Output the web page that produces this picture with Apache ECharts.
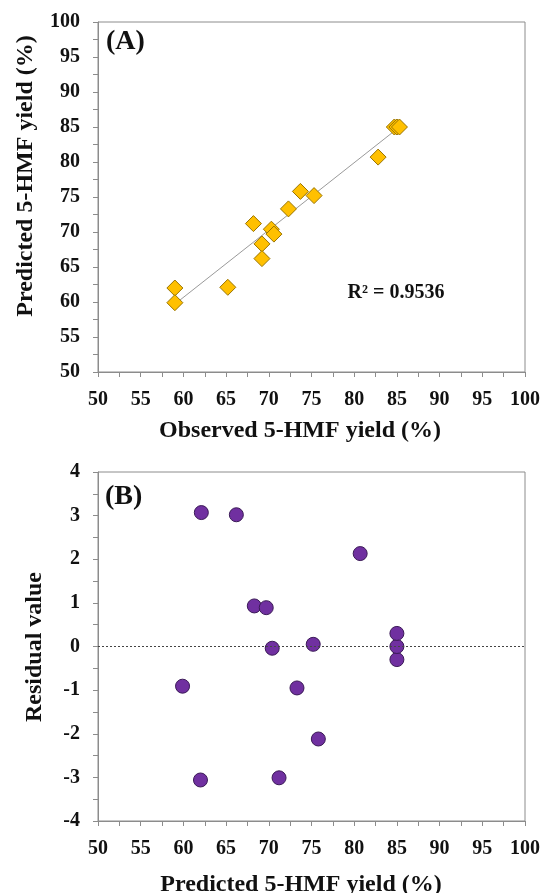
<!DOCTYPE html>
<html>
<head>
<meta charset="utf-8">
<script src="https://cdn.jsdelivr.net/npm/echarts@6/dist/echarts.min.js"></script>
<style>
html,body{margin:0;padding:0;background:#fff;}
#chart{width:544px;height:893px;}
</style>
</head>
<body>
<div id="chart"></div>
<script>
// Panel A: observed vs predicted 5-HMF yield (%)
var observed  = [59.0, 59.0, 65.2, 68.2, 69.2, 69.2, 70.3, 70.6, 72.3, 73.7, 75.3, 82.8, 84.7, 85.0, 85.3];
var predicted = [62.0, 59.9, 62.1, 71.2, 68.3, 66.2, 70.4, 69.7, 73.3, 75.8, 75.2, 80.7, 85.0, 85.0, 85.0];
// Panel B: residual value vs predicted yield
var residual  = [-3.06, -0.91, 3.07, -3.01, 0.93, 3.02, -0.04, 0.89, -0.95, -2.12, 0.05, 2.13, -0.30, 0.00, 0.30];
// Linear trend line endpoints (panel A)
var trendX = [59.0, 85.3];
var trendY = [59.7, 85.0];
var rSquaredText = 'R² = 0.9536';
var xTickLabels = [50, 55, 60, 65, 70, 75, 80, 85, 90, 95, 100];
var yTickLabelsA = [50, 55, 60, 65, 70, 75, 80, 85, 90, 95, 100];
var yTickLabelsB = [-4, -3, -2, -1, 0, 1, 2, 3, 4];

var FONT = '"Liberation Serif", "Times New Roman", serif';
var AXC = '#8c8c8c';

function pairs(xs, ys) { return xs.map(function (x, i) { return [x, ys[i]]; }); }
function labelFmt(list) {
  return function (v) {
    for (var i = 0; i < list.length; i++) if (Math.abs(list[i] - v) < 1e-9) return String(list[i]);
    return '';
  };
}
function axisCommon(min, max, interval, labels, isY) {
  return {
    type: 'value', min: min, max: max, interval: interval,
    axisLine: { show: true, onZero: false, lineStyle: { color: AXC, width: 1 } },
    axisTick: { show: true, inside: false, length: 5, lineStyle: { color: AXC, width: 1 } },
    splitLine: { show: false },
    axisLabel: {
      formatter: labelFmt(labels), margin: isY ? 18 : 18,
      fontFamily: FONT, fontWeight: 'bold', fontSize: 20, color: '#111'
    }
  };
}

var chart = echarts.init(document.getElementById('chart'), null, { renderer: 'canvas' });
var xA = axisCommon(50, 100, 2.5, xTickLabels, false); xA.gridIndex = 0;
var yA = axisCommon(50, 100, 2.5, yTickLabelsA, true); yA.gridIndex = 0;
var xB = axisCommon(50, 100, 2.5, xTickLabels, false); xB.gridIndex = 1;
var yB = axisCommon(-4, 4, 0.5, yTickLabelsB, true); yB.gridIndex = 1;

var titleStyle = { fontFamily: FONT, fontWeight: 'bold', fontSize: 24, fill: '#111', textAlign: 'center', textVerticalAlign: 'middle' };
function txt(s, x, y, rot, extra) {
  var st = Object.assign({}, titleStyle, { text: s }, extra || {});
  return { type: 'text', x: x, y: y, rotation: rot || 0, style: st, z: 10 };
}

chart.setOption({
  backgroundColor: '#ffffff',
  animation: false,
  grid: [
    { left: 98, top: 22, width: 427, height: 350, show: true, borderColor: AXC, borderWidth: 1, backgroundColor: 'transparent' },
    { left: 98, top: 472, width: 427, height: 349, show: true, borderColor: AXC, borderWidth: 1, backgroundColor: 'transparent' }
  ],
  xAxis: [xA, xB],
  yAxis: [yA, yB],
  series: [
    {
      type: 'line', xAxisIndex: 0, yAxisIndex: 0,
      data: pairs(trendX, trendY), symbol: 'none',
      lineStyle: { color: '#9a9a9a', width: 1 }, z: 2
    },
    {
      type: 'scatter', xAxisIndex: 0, yAxisIndex: 0,
      data: pairs(observed, predicted), symbol: 'diamond', symbolSize: 16,
      itemStyle: { color: '#FFC000', borderColor: '#9a7400', borderWidth: 1, opacity: 1 }, z: 3
    },
    {
      type: 'scatter', xAxisIndex: 1, yAxisIndex: 1,
      data: pairs(predicted, residual), symbol: 'circle', symbolSize: 14,
      itemStyle: { color: '#7030A0', borderColor: '#3b1a57', borderWidth: 1, opacity: 1 }, z: 3,
      markLine: {
        silent: true, symbol: 'none', label: { show: false },
        lineStyle: { color: '#444', type: [2, 2], width: 1 },
        data: [{ yAxis: 0 }]
      }
    }
  ],
  graphic: [
    txt('Observed 5-HMF yield (%)', 300, 431, 0),
    txt('Predicted 5-HMF yield (%)', 26, 176, Math.PI / 2),
    txt('Predicted 5-HMF yield (%)', 301, 885, 0),
    txt('Residual value', 35, 647, Math.PI / 2),
    txt('(A)', 106, 42, 0, { textAlign: 'left', fontSize: 28 }),
    txt('(B)', 105, 497, 0, { textAlign: 'left', fontSize: 28 }),
    txt(rSquaredText, 396, 293, 0, { fontSize: 20 })
  ]
});
</script>
</body>
</html>
